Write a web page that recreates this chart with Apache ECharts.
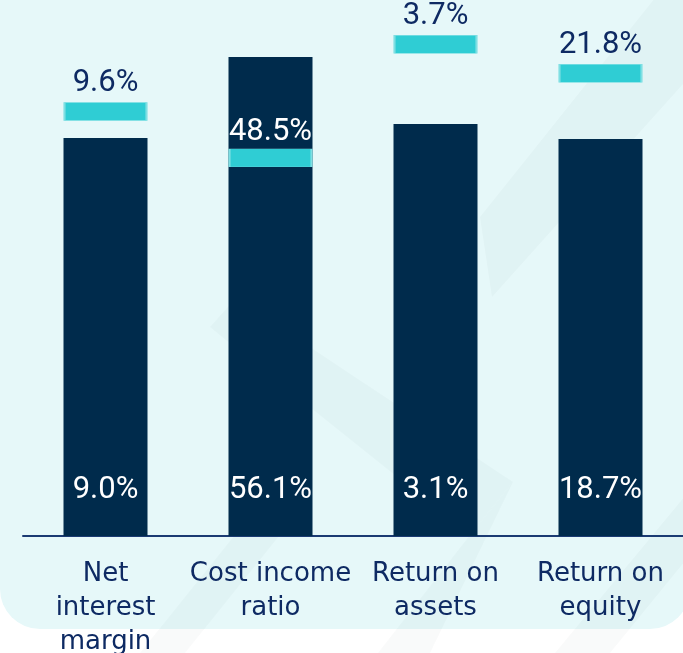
<!DOCTYPE html>
<html><head><meta charset="utf-8">
<script src="https://cdn.jsdelivr.net/npm/echarts@6/dist/echarts.min.js"></script>
<style>html,body{margin:0;padding:0;background:#fff}#c{width:683px;height:653px}</style>
</head><body><div id="c"></div>
<script>
// ---- data ----
const categories = ['Net\ninterest\nmargin', 'Cost income\nratio', 'Return on\nassets', 'Return on\nequity'];
const actualValues = [9.0, 56.1, 3.1, 18.7];   // dark bars
const targetValues = [9.6, 48.5, 3.7, 21.8];   // cyan markers
// each metric drawn on its own (hidden) value scale
const axisMin = [0, 20, 0, 0];
const axisMax = [12.12, 60.4, 4.033, 25.25];

const NAVY = '#002b4c', CYAN = '#2fcdd4', TEXT = '#0e2a63';
const chart = echarts.init(document.getElementById('c'), null, {renderer: 'canvas'});

const pick = (arr, i) => arr.map((v, j) => (j === i ? v : '-'));
const series = [];
categories.forEach((c, i) => {
  series.push({
    type: 'bar', yAxisIndex: i, data: pick(actualValues, i),
    barWidth: 84, barGap: '-100%', z: 2,
    itemStyle: {color: NAVY},
    label: {show: true, position: 'insideBottom', distance: 30, color: '#fff',
      fontFamily: 'Roboto', fontSize: 31, lineHeight: 32,
      formatter: p => p.value.toFixed(1) + '%'}
  });
});
categories.forEach((c, i) => {
  series.push({
    type: 'scatter', yAxisIndex: i, data: pick(targetValues, i),
    symbol: 'rect', symbolSize: [82, 18], z: 5,
    itemStyle: {color: CYAN, borderColor: '#7fdfe3', borderWidth: 1, opacity: 1},
    label: {show: true, position: 'top', distance: i === 1 ? 0 : 3,
      color: i === 1 ? '#ffffff' : TEXT,
      fontFamily: 'Roboto', fontSize: 31, lineHeight: 32,
      formatter: p => p.value.toFixed(1) + '%'},
    emphasis: {disabled: true}
  });
});

const wm = 'rgba(0,50,60,0.025)';
const poly = pts => ({type: 'polygon', z: -9, silent: true, shape: {points: pts}, style: {fill: wm}});

chart.setOption({
  animation: false,
  backgroundColor: '#ffffff',
  graphic: [
    {type: 'rect', z: -10, silent: true, shape: {x: 0, y: 0, width: 690, height: 629, r: [0, 0, 40, 40]},
      style: {fill: '#e6f8f9'}},
    poly([[480, 217], [655, -2], [700, -2], [700, 65], [492, 297]]),
    poly([[210, 327], [236, 298], [513, 482], [470, 535], [232, 345]]),
    poly([[513, 482], [470, 535], [378, 653], [430, 653]]),
    poly([[140, 653], [185, 653], [300, 510], [255, 510]]),
    poly([[555, 653], [610, 653], [690, 555], [690, 490]])
  ],
  grid: {left: 23, right: 0, top: 0, bottom: 117, containLabel: false, outerBoundsMode: 'none'},
  xAxis: {
    type: 'category', data: categories,
    axisLine: {lineStyle: {color: '#1b3b73', width: 2}},
    axisTick: {show: false},
    axisLabel: {interval: 0, margin: 21, color: TEXT, fontFamily: 'DejaVu Sans',
      fontSize: 26, lineHeight: 34}
  },
  yAxis: categories.map((c, i) => ({
    type: 'value', show: false, min: axisMin[i], max: axisMax[i],
    splitLine: {show: false}
  })),
  series: series
});
</script></body></html>
